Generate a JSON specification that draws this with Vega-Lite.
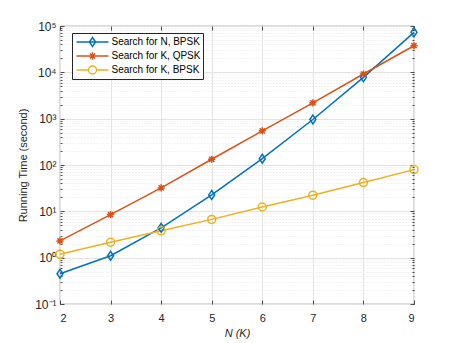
{
  "$schema": "https://vega.github.io/schema/vega-lite/v6.json",
  "width": 354,
  "height": 278,
  "autosize": {"type": "none"},
  "padding": {"left": 60, "top": 26, "right": 43, "bottom": 39},
  "background": "white",
  "config": {
    "view": {"stroke": "#262626", "strokeWidth": 0.8},
    "font": "Liberation Sans",
    "axis": {"labelFont": "Liberation Sans", "titleFont": "Liberation Sans"},
    "legend": {
      "title": null, "orient": "none", "legendX": 12, "legendY": 7,
      "fillColor": "white", "strokeColor": "#262626", "padding": 2,
      "labelFontSize": 10, "labelColor": "black", "labelFont": "Liberation Sans",
      "symbolSize": 1024, "symbolStrokeWidth": 1.5, "rowPadding": 0, "clipHeight": 14,
      "symbolOffset": 1.5, "labelOffset": 2
    }
  },
  "data": {
    "values": [
      {"n": 2, "series": "Search for N, BPSK", "t": 0.45},
      {"n": 3, "series": "Search for N, BPSK", "t": 1.1},
      {"n": 4, "series": "Search for N, BPSK", "t": 4.4},
      {"n": 5, "series": "Search for N, BPSK", "t": 22.6},
      {"n": 6, "series": "Search for N, BPSK", "t": 137},
      {"n": 7, "series": "Search for N, BPSK", "t": 960},
      {"n": 8, "series": "Search for N, BPSK", "t": 7800},
      {"n": 9, "series": "Search for N, BPSK", "t": 73000},
      {"n": 2, "series": "Search for K, QPSK", "t": 2.3},
      {"n": 3, "series": "Search for K, QPSK", "t": 8.5},
      {"n": 4, "series": "Search for K, QPSK", "t": 32},
      {"n": 5, "series": "Search for K, QPSK", "t": 133},
      {"n": 6, "series": "Search for K, QPSK", "t": 546},
      {"n": 7, "series": "Search for K, QPSK", "t": 2200},
      {"n": 8, "series": "Search for K, QPSK", "t": 9200},
      {"n": 9, "series": "Search for K, QPSK", "t": 37500},
      {"n": 2, "series": "Search for K, BPSK", "t": 1.18},
      {"n": 3, "series": "Search for K, BPSK", "t": 2.15},
      {"n": 4, "series": "Search for K, BPSK", "t": 3.8},
      {"n": 5, "series": "Search for K, BPSK", "t": 6.7},
      {"n": 6, "series": "Search for K, BPSK", "t": 12.4},
      {"n": 7, "series": "Search for K, BPSK", "t": 22.3},
      {"n": 8, "series": "Search for K, BPSK", "t": 41.7},
      {"n": 9, "series": "Search for K, BPSK", "t": 79.5}
    ]
  },
  "encoding": {
    "color": {
      "field": "series", "type": "nominal",
      "scale": {"domain": ["Search for N, BPSK", "Search for K, QPSK", "Search for K, BPSK"], "range": ["#0072BD", "#D95319", "#EDB120"]},
      "legend": {
        "encode": {
          "symbols": {
            "update": {
              "shape": {"signal": "datum.value === 'Search for N, BPSK' ? 'M-1,0H1M0,-0.28L0.19,0L0,0.28L-0.19,0Z' : datum.value === 'Search for K, QPSK' ? 'M-1,0H1M0,-0.23V0.23M-0.16,-0.16L0.16,0.16M-0.16,0.16L0.16,-0.16' : 'M-1,0H-0.25M0.25,0H1M0.25,0A0.25,0.25,0,1,1,-0.25,0A0.25,0.25,0,1,1,0.25,0'"},
              "fill": {"value": "transparent"}
            }
          }
        }
      }
    }
  },
  "layer": [
    {
      "mark": {"type": "line", "strokeWidth": 1.5},
      "encoding": {
        "x": {
          "field": "n", "type": "quantitative",
          "scale": {"domain": [2, 9], "nice": false, "zero": false},
          "axis": {
            "orient": "bottom", "values": [2, 3, 4, 5, 6, 7, 8, 9], "format": "d",
            "grid": true, "gridColor": "#e3e3e3", "gridWidth": 1,
            "domain": false, "ticks": true, "tickSize": -4, "tickColor": "#262626", "tickWidth": 0.8,
            "labelFontSize": 11, "labelColor": "#262626", "labelPadding": 12,
            "title": "N (K)", "titleFontSize": 11, "titleFontWeight": "normal", "titleFontStyle": "italic",
            "titleColor": "#262626", "titlePadding": 4
          }
        },
        "y": {
          "field": "t", "type": "quantitative",
          "scale": {"type": "log", "domain": [0.1, 100000], "nice": false},
          "axis": {
            "orient": "left",
            "values": [0.1, 0.2, 0.3, 0.4, 0.5, 0.6, 0.7, 0.8, 0.9, 1, 2, 3, 4, 5, 6, 7, 8, 9, 10, 20, 30, 40, 50, 60, 70, 80, 90, 100, 200, 300, 400, 500, 600, 700, 800, 900, 1000, 2000, 3000, 4000, 5000, 6000, 7000, 8000, 9000, 10000, 20000, 30000, 40000, 50000, 60000, 70000, 80000, 90000, 100000],
            "labelExpr": "datum.value==0.1?'10⁻¹':datum.value==1?'10⁰':datum.value==10?'10¹':datum.value==100?'10²':datum.value==1000?'10³':datum.value==10000?'10⁴':datum.value==100000?'10⁵':''",
            "grid": true,
            "gridColor": {"condition": {"test": "abs(log(datum.value)/LN10 - round(log(datum.value)/LN10)) < 0.000001", "value": "#e3e3e3"}, "value": "#e6e6e6"},
            "gridDash": {"condition": {"test": "abs(log(datum.value)/LN10 - round(log(datum.value)/LN10)) < 0.000001", "value": []}, "value": [1, 2]},
            "gridWidth": 1,
            "domain": false, "ticks": true,
            "tickSize": {"condition": {"test": "abs(log(datum.value)/LN10 - round(log(datum.value)/LN10)) < 0.000001", "value": -4}, "value": -2},
            "tickColor": "#262626", "tickWidth": 0.8,
            "labelFontSize": 12, "labelColor": "#262626", "labelPadding": 8, "labelBound": false, "labelOverlap": false,
            "title": "Running Time (second)", "titleFontSize": 11, "titleFontWeight": "normal", "titleColor": "#262626", "titlePadding": 6
          }
        }
      }
    },
    {
      "transform": [{"filter": "datum.series === 'Search for N, BPSK'"}],
      "mark": {"type": "point", "filled": false, "strokeWidth": 1.5, "size": 64, "opacity": 1, "shape": "M0,-1.1L0.75,0L0,1.1L-0.75,0Z"},
      "encoding": {
        "x": {
          "field": "n", "type": "quantitative",
          "axis": {
            "orient": "top", "values": [2, 3, 4, 5, 6, 7, 8, 9], "labels": false, "grid": false,
            "domain": false, "ticks": true, "tickSize": -4, "tickColor": "#262626", "tickWidth": 0.8, "title": null
          }
        },
        "y": {
          "field": "t", "type": "quantitative",
          "axis": {
            "orient": "right",
            "values": [0.1, 0.2, 0.3, 0.4, 0.5, 0.6, 0.7, 0.8, 0.9, 1, 2, 3, 4, 5, 6, 7, 8, 9, 10, 20, 30, 40, 50, 60, 70, 80, 90, 100, 200, 300, 400, 500, 600, 700, 800, 900, 1000, 2000, 3000, 4000, 5000, 6000, 7000, 8000, 9000, 10000, 20000, 30000, 40000, 50000, 60000, 70000, 80000, 90000, 100000],
            "labels": false, "grid": false, "domain": false, "ticks": true,
            "tickSize": {"condition": {"test": "abs(log(datum.value)/LN10 - round(log(datum.value)/LN10)) < 0.000001", "value": -4}, "value": -2},
            "tickColor": "#262626", "tickWidth": 0.8, "title": null
          }
        }
      }
    },
    {
      "transform": [{"filter": "datum.series === 'Search for K, QPSK'"}],
      "mark": {"type": "point", "filled": false, "strokeWidth": 1.5, "size": 64, "opacity": 1, "shape": "M-0.9,0H0.9M0,-0.9V0.9M-0.65,-0.65L0.65,0.65M-0.65,0.65L0.65,-0.65"},
      "encoding": {
        "x": {"field": "n", "type": "quantitative", "axis": null},
        "y": {"field": "t", "type": "quantitative", "axis": null}
      }
    },
    {
      "transform": [{"filter": "datum.series === 'Search for K, BPSK'"}],
      "mark": {"type": "point", "filled": false, "strokeWidth": 1.5, "size": 64, "opacity": 1, "shape": "circle"},
      "encoding": {
        "x": {"field": "n", "type": "quantitative", "axis": null},
        "y": {"field": "t", "type": "quantitative", "axis": null}
      }
    }
  ]
}
